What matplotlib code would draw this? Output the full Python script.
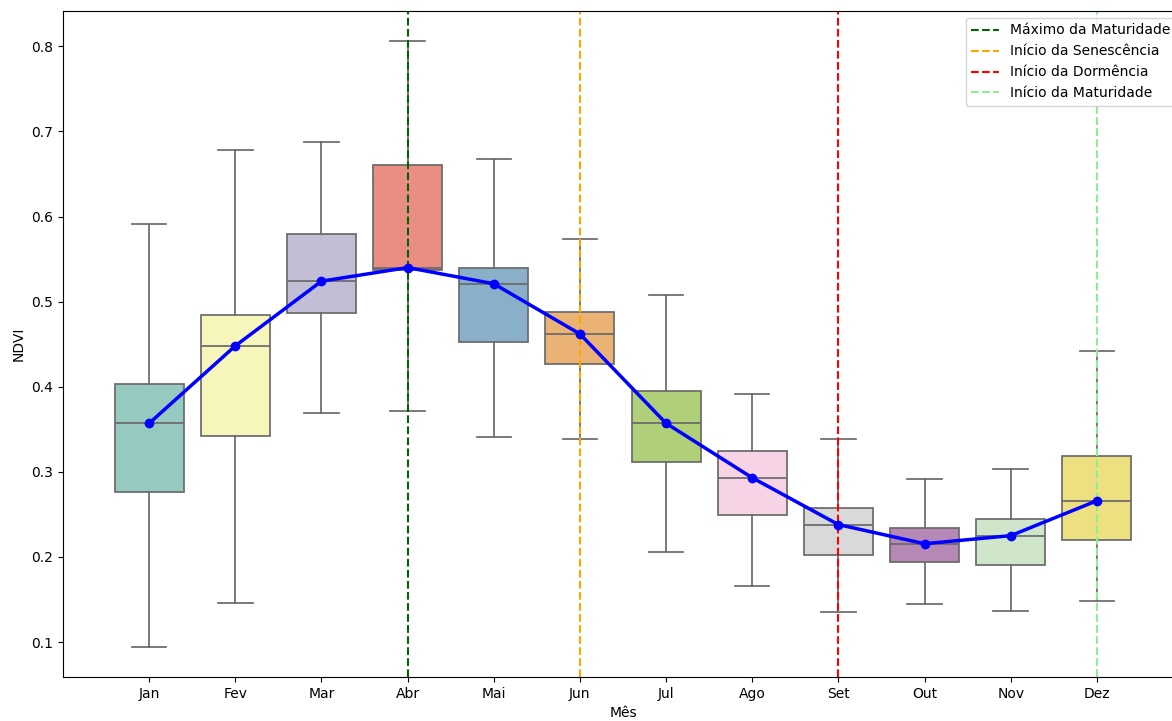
import matplotlib
matplotlib.use("Agg")
import matplotlib.pyplot as plt
import seaborn as sns

months = ["Jan", "Fev", "Mar", "Abr", "Mai", "Jun", "Jul", "Ago", "Set", "Out", "Nov", "Dez"]
whisker_low = [0.094, 0.146, 0.369, 0.371, 0.341, 0.338, 0.206, 0.166, 0.135, 0.145, 0.137, 0.148]
q1 = [0.276, 0.342, 0.487, 0.537, 0.453, 0.427, 0.311, 0.249, 0.2025, 0.194, 0.190, 0.220]
medians = [0.357, 0.448, 0.524, 0.540, 0.521, 0.462, 0.357, 0.293, 0.238, 0.2155, 0.225, 0.266]
q3 = [0.403, 0.484, 0.580, 0.660, 0.540, 0.488, 0.395, 0.324, 0.257, 0.234, 0.245, 0.319]
whisker_high = [0.591, 0.678, 0.688, 0.806, 0.668, 0.574, 0.508, 0.392, 0.338, 0.291, 0.303, 0.442]

phase_labels = ["Máximo da Maturidade", "Início da Senescência", "Início da Dormência", "Início da Maturidade"]
phase_months = ["Abr", "Jun", "Set", "Dez"]
phase_colors = ["darkgreen", "orange", "red", "lightgreen"]

fig = plt.figure(figsize=(11.72, 7.21), dpi=100)
ax = fig.add_axes([63/1172, (721-677)/721, (1183-63)/1172, (677-11)/721])

palette = [sns.desaturate(c, 0.75) for c in sns.color_palette("Set3", 12)]
line_c = "#6a6a6a"

stats = []
for i, m in enumerate(months):
    stats.append(dict(label=m, whislo=whisker_low[i], q1=q1[i], med=medians[i],
                      q3=q3[i], whishi=whisker_high[i], fliers=[]))
pos = list(range(len(months)))
bp = ax.bxp(stats, positions=pos, widths=0.8, patch_artist=True, showfliers=False,
            boxprops=dict(edgecolor=line_c, linewidth=1.25),
            whiskerprops=dict(color=line_c, linewidth=1.25),
            capprops=dict(color=line_c, linewidth=1.25),
            medianprops=dict(color=line_c, linewidth=1.25), capwidths=0.4)
for patch, c in zip(bp["boxes"], palette):
    patch.set_facecolor(c)

ax.plot(pos, medians, color="blue", marker="o", linewidth=2.5, markersize=6, zorder=5)

for lab, m, c in zip(phase_labels, phase_months, phase_colors):
    ax.axvline(months.index(m), color=c, linestyle="--", linewidth=1.5, label=lab)

ax.set_xlim(-1, 12)
ax.set_ylim(0.0589, 0.8415)
ax.set_xticks(pos)
ax.set_xticklabels(months)
ax.set_xlabel("Mês")
ax.set_ylabel("NDVI")
ax.legend(loc="upper right")

fig.savefig("out.png", dpi=100)
